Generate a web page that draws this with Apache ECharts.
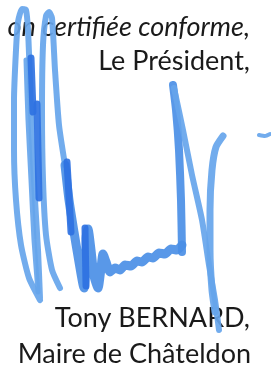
<!DOCTYPE html>
<html>
<head>
<meta charset="utf-8">
<script src="https://cdn.jsdelivr.net/npm/echarts@6/dist/echarts.min.js"></script>
<style>
  html, body { margin: 0; padding: 0; background: #fff; }
  #chart { width: 271px; height: 365px; }
</style>
</head>
<body>
<div id="chart"></div>
<script>
// texte du bloc de signature
const textLines = ['on certifiée conforme,', 'Le Président,', 'Tony BERNARD,', 'Maire de Châteldon']

// traits de la signature, en pixels de l'image (x, y)
const loopOuter = [[40,300],[29,278],[21,245],[16,200],[14,150],[14,100],[16,50],[18,22],[22,9],[26,10],[28,30],[30,80],[32,140],[35,200],[38,250],[40,298]]
const loopInner = [[26,60],[28,120],[31,180],[34,240],[38,292]]
const loopSecond = [[60,288],[52,270],[46,235],[43,180],[42,110],[43,45],[46,16],[49,12],[52,18],[55,70],[59,125],[65,165]]
const zigzag = [[65,165],[69,200],[74,232],[79,262],[84,288],[86,262],[86,238],[88,229],[91,250],[94,276],[98,288],[101,268],[103,254],[106,262],[110,272],[115,268],[120,270],[125,265],[131,266],[137,261],[142,262],[148,257],[153,258],[159,253],[165,254],[171,249],[177,250],[182,245]]
const upstroke = [[182,252],[181,200],[179,150],[176,110],[173,85]]
const diagonal = [[174,88],[183,130],[192,175],[202,220],[209,265],[215,300],[219,330]]
const hook = [[223,136],[216,147],[212,170],[210,210],[210,250],[212,290],[215,312]]
const dash = [[259,135],[265,136],[270,134]]
const darkMarks = [
  [[31,58],[33,112]],
  [[37,104],[39,198]],
  [[67,162],[71,232]],
  [[85,228],[86,286]]
]

const chart = echarts.init(document.getElementById('chart'), null, { renderer: 'canvas' })

const light = '#66a5ec'
const mid = '#4b8fe6'
const dark = '#2f72e2'

function stroke(data, color, width) {
  return {
    type: 'line',
    data: data,
    smooth: 0.2,
    symbol: 'none',
    silent: true,
    lineStyle: { color: color, width: width, cap: 'round', join: 'round', opacity: 0.92 }
  }
}

const series = [
  stroke(loopOuter, light, 6),
  stroke(loopInner, light, 5),
  stroke(loopSecond, light, 6),
  stroke(zigzag, mid, 9),
  stroke(upstroke, mid, 8),
  stroke(diagonal, light, 6),
  stroke(hook, light, 7),
  stroke(dash, light, 4)
]
darkMarks.forEach(m => series.push(stroke(m, dark, 7)))

const textFont = 'Lato, "Open Sans", sans-serif'

const option = {
  animation: false,
  grid: { left: 0, right: 0, top: 0, bottom: 0 },
  xAxis: { type: 'value', min: 0, max: 271, show: false },
  yAxis: { type: 'value', min: 0, max: 365, inverse: true, show: false },
  graphic: [
    { type: 'text', right: 21, top: 14, z: -1, style: { text: textLines[0], font: 'italic 27px ' + textFont, fill: '#1a1a1a' } },
    { type: 'text', right: 21, top: 48, z: -1, style: { text: textLines[1], font: '27px ' + textFont, fill: '#1a1a1a' } },
    { type: 'text', right: 21, top: 305, z: -1, style: { text: textLines[2], font: '27px ' + textFont, fill: '#1a1a1a' } },
    { type: 'text', right: 20, top: 341, z: -1, style: { text: textLines[3], font: '27px ' + textFont, fill: '#1a1a1a' } }
  ],
  series: series
}

chart.setOption(option)
</script>
</body>
</html>
